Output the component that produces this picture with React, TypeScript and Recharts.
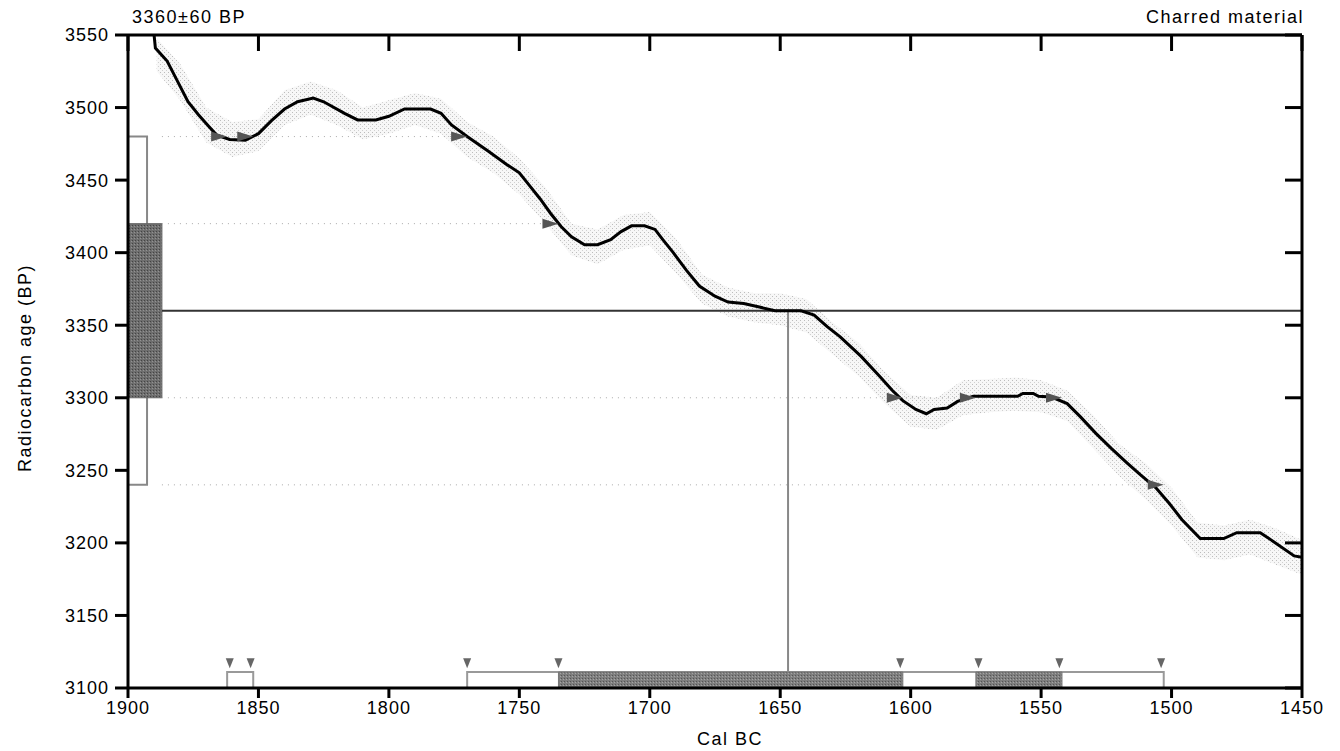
import React from 'react';
import { ComposedChart, Line, Area, Scatter, XAxis, YAxis, ReferenceLine, ReferenceArea } from 'recharts';

// calibration curve (Cal BC -> radiocarbon BP)
const curveYears = [1890, 1889.5, 1885, 1881, 1877, 1873, 1869, 1866, 1861, 1855, 1850, 1845, 1840, 1835, 1829, 1825, 1817, 1812, 1805, 1800, 1794, 1784, 1780, 1776, 1770, 1762, 1755, 1750, 1746, 1742, 1738, 1734, 1730, 1725, 1720, 1715, 1711, 1707, 1702, 1698, 1695, 1691, 1686, 1681, 1675, 1670, 1664, 1658, 1652, 1642, 1637, 1632, 1627, 1619, 1612, 1607, 1603, 1598, 1594, 1591, 1586, 1582, 1576, 1559, 1557, 1553, 1551, 1546, 1540, 1535, 1529, 1523, 1517, 1512, 1506, 1501, 1496, 1489, 1480, 1475, 1466, 1461, 1453, 1450];
const curveAges = [3550, 3541, 3532, 3518, 3504, 3495, 3487, 3481, 3478, 3477.5, 3482, 3491, 3499, 3504, 3506.5, 3504, 3496, 3491.5, 3491.5, 3494, 3499, 3499, 3496, 3488, 3480, 3470, 3461, 3455, 3446, 3437, 3427, 3418, 3411, 3405.5, 3405.5, 3409, 3414.5, 3418.5, 3418.5, 3416, 3409, 3400, 3388, 3377, 3370, 3366, 3365, 3362.5, 3360, 3360, 3357, 3349, 3342, 3328.5, 3315, 3305, 3298, 3292, 3289, 3292, 3293, 3297.5, 3301, 3301, 3303, 3303, 3301, 3300.5, 3296, 3287, 3275.5, 3265, 3255, 3247, 3238, 3227.5, 3216, 3203, 3203, 3207, 3207, 3201, 3191, 3190];

// speckled error envelope round the curve
const bandYears = [1889, 1880, 1870, 1860, 1850, 1840, 1830, 1820, 1810, 1800, 1790, 1780, 1770, 1760, 1750, 1740, 1730, 1720, 1710, 1700, 1690, 1680, 1670, 1660, 1650, 1640, 1630, 1620, 1610, 1600, 1590, 1580, 1570, 1560, 1550, 1540, 1530, 1520, 1510, 1500, 1490, 1480, 1470, 1460, 1450];
const bandLow = [3525, 3505, 3476, 3466, 3470, 3488, 3495, 3488, 3478, 3482, 3488, 3482, 3466, 3455, 3440, 3420, 3398, 3392, 3402, 3405, 3386, 3365, 3356, 3352, 3350, 3345, 3330, 3315, 3296, 3280, 3278, 3288, 3290, 3291, 3290, 3284, 3265, 3246, 3230, 3212, 3190, 3188, 3192, 3185, 3178];
const bandHigh = [3548, 3530, 3500, 3490, 3492, 3512, 3518, 3512, 3500, 3505, 3510, 3506, 3490, 3480, 3465, 3445, 3420, 3416, 3426, 3428, 3410, 3385, 3376, 3372, 3372, 3368, 3352, 3338, 3318, 3302, 3300, 3312, 3313, 3314, 3312, 3305, 3288, 3268, 3255, 3238, 3214, 3212, 3216, 3210, 3202];

const xTicks = [1900, 1850, 1800, 1750, 1700, 1650, 1600, 1550, 1500, 1450];
const yTicks = [3100, 3150, 3200, 3250, 3300, 3350, 3400, 3450, 3500, 3550];

const sampleAge = 3360;
const sampleErr = 60;
const medianYear = 1647;

// calibrated ranges (Cal BC)
const twoSigma = [[1862, 1852], [1770, 1503]];
const oneSigma = [[1735, 1603], [1575, 1542]];

// where the sigma levels meet the curve
const curveMarks = [
  { year: 1862, bp: 3480 }, { year: 1852, bp: 3480 }, { year: 1770, bp: 3480 }, { year: 1735, bp: 3420 },
  { year: 1603, bp: 3300 }, { year: 1575, bp: 3300 }, { year: 1542, bp: 3300 }, { year: 1503, bp: 3240 },
];
const edgeMarks = [1861, 1853, 1770, 1735, 1604, 1574, 1543, 1504];

const FONT = '"Liberation Sans", Arial, sans-serif';
const tickStyle = { fill: '#000', fontSize: 18, fontFamily: FONT, letterSpacing: 1 };

const curveData = curveYears.map((year, i) => ({ year, bp: curveAges[i] }));
const bandData = bandYears.map((year, i) => ({ year, band: [bandLow[i], bandHigh[i]] }));
const edgeData = edgeMarks.map((year) => ({ year, bp: 3117 }));

const RightTri = (props: any) => {
  const { cx, cy } = props;
  return <polygon points={`${cx - 16},${cy - 5} ${cx},${cy} ${cx - 16},${cy + 5}`} fill="#555" />;
};
const DownTri = (props: any) => {
  const { cx, cy } = props;
  return <polygon points={`${cx - 4},${cy - 5} ${cx + 4},${cy - 5} ${cx},${cy + 5}`} fill="#666" />;
};
const NoTick = () => <g />;

export default function App() {
  return (
    <div style={{ position: 'absolute', left: 0, top: 0, width: 1340, height: 751, background: '#fff', fontFamily: FONT }}>
      <ComposedChart width={1340} height={751} margin={{ top: 35, right: 38, bottom: 23, left: 58 }}>
        <defs>
          <pattern id="speckle" width="4" height="4" patternUnits="userSpaceOnUse">
            <rect width="4" height="4" fill="#f7f7f7" />
            <rect x="0" y="0" width="1" height="1" fill="#bcbcbc" />
            <rect x="2" y="2" width="1" height="1" fill="#d0d0d0" />
          </pattern>
          <pattern id="darkfill" width="3" height="3" patternUnits="userSpaceOnUse">
            <rect width="3" height="3" fill="#6e6e6e" />
            <rect x="0" y="0" width="1" height="1" fill="#444" />
            <rect x="2" y="1" width="1" height="1" fill="#929292" />
          </pattern>
          <pattern id="barfill" width="3" height="3" patternUnits="userSpaceOnUse">
            <rect width="3" height="3" fill="#7e7e7e" />
            <rect x="0" y="0" width="1" height="1" fill="#555" />
            <rect x="2" y="1" width="1" height="1" fill="#a4a4a4" />
          </pattern>
        </defs>
        <XAxis dataKey="year" type="number" domain={[1450, 1900]} reversed allowDataOverflow ticks={xTicks}
          interval={0} height={40} tickSize={10} tickMargin={3}
          axisLine={{ stroke: '#000', strokeWidth: 3 }} tickLine={{ stroke: '#000', strokeWidth: 3 }}
          tick={tickStyle} />
        <XAxis xAxisId="top" orientation="top" dataKey="year" type="number" domain={[1450, 1900]} reversed allowDataOverflow
          ticks={xTicks} interval={0} height={1} mirror tickSize={16}
          axisLine={{ stroke: '#000', strokeWidth: 3 }} tickLine={{ stroke: '#000', strokeWidth: 3 }} tick={NoTick} />
        <YAxis type="number" domain={[3100, 3550]} allowDataOverflow ticks={yTicks} interval={0} width={70}
          tickSize={13} tickMargin={6}
          axisLine={{ stroke: '#000', strokeWidth: 3 }} tickLine={{ stroke: '#000', strokeWidth: 3 }}
          tick={tickStyle} />
        <YAxis yAxisId="r" orientation="right" type="number" domain={[3100, 3550]} allowDataOverflow ticks={yTicks}
          interval={0} width={1} mirror tickSize={17}
          axisLine={{ stroke: '#000', strokeWidth: 3 }} tickLine={{ stroke: '#000', strokeWidth: 3 }} tick={NoTick} />

        <Area data={bandData} dataKey="band" type="linear" stroke="none" fill="url(#speckle)" fillOpacity={1} isAnimationActive={false} />

        {[sampleAge + 2 * sampleErr, sampleAge + sampleErr, sampleAge - sampleErr, sampleAge - 2 * sampleErr].map((lvl, i) => (
          <ReferenceLine key={lvl} segment={[{ x: 1887, y: lvl }, { x: [1770, 1735, 1542, 1503][i], y: lvl }]}
            stroke="#aaa" strokeWidth={1} strokeDasharray="1 5" />
        ))}

        <ReferenceArea x1={1900} x2={1892.7} y1={sampleAge - 2 * sampleErr} y2={sampleAge + 2 * sampleErr}
          fill="#fff" fillOpacity={1} stroke="#888" strokeWidth={2} ifOverflow="visible" />
        <ReferenceArea x1={1900} x2={1887} y1={sampleAge - sampleErr} y2={sampleAge + sampleErr}
          fill="url(#darkfill)" fillOpacity={1} stroke="#666" strokeWidth={1} ifOverflow="visible" />

        <ReferenceLine segment={[{ x: 1887, y: sampleAge }, { x: 1450, y: sampleAge }]} stroke="#333" strokeWidth={2} />
        <ReferenceLine segment={[{ x: medianYear, y: sampleAge }, { x: medianYear, y: 3111 }]} stroke="#888" strokeWidth={2} />

        {twoSigma.map(([a, b]) => (
          <ReferenceArea key={`w${a}`} x1={a} x2={b} y1={3100} y2={3111} fill="#fff" fillOpacity={1} stroke="#999" strokeWidth={2} />
        ))}
        {oneSigma.map(([a, b]) => (
          <ReferenceArea key={`d${a}`} x1={a} x2={b} y1={3100} y2={3111} fill="url(#barfill)" fillOpacity={1} stroke="#777" strokeWidth={1} />
        ))}

        <Line data={curveData} dataKey="bp" type="linear" stroke="#000" strokeWidth={3} dot={false} isAnimationActive={false} />
        <Scatter data={curveMarks} dataKey="bp" shape={RightTri} isAnimationActive={false} />
        <Scatter data={edgeData} dataKey="bp" shape={DownTri} isAnimationActive={false} />
      </ComposedChart>

      <div style={{ position: 'absolute', left: 132, top: 7, fontSize: 18, letterSpacing: 1.5, color: '#000' }}>3360±60 BP</div>
      <div style={{ position: 'absolute', right: 36, top: 7, fontSize: 18, letterSpacing: 1.5, color: '#000' }}>Charred material</div>
      <div style={{ position: 'absolute', left: 697, top: 729, fontSize: 18, letterSpacing: 1.5, color: '#000' }}>Cal BC</div>
      <div style={{ position: 'absolute', left: 25, top: 368, transform: 'translate(-50%, -50%) rotate(-90deg)', fontSize: 18, letterSpacing: 1.5, whiteSpace: 'nowrap', color: '#000' }}>
        Radiocarbon age (BP)
      </div>
    </div>
  );
}
